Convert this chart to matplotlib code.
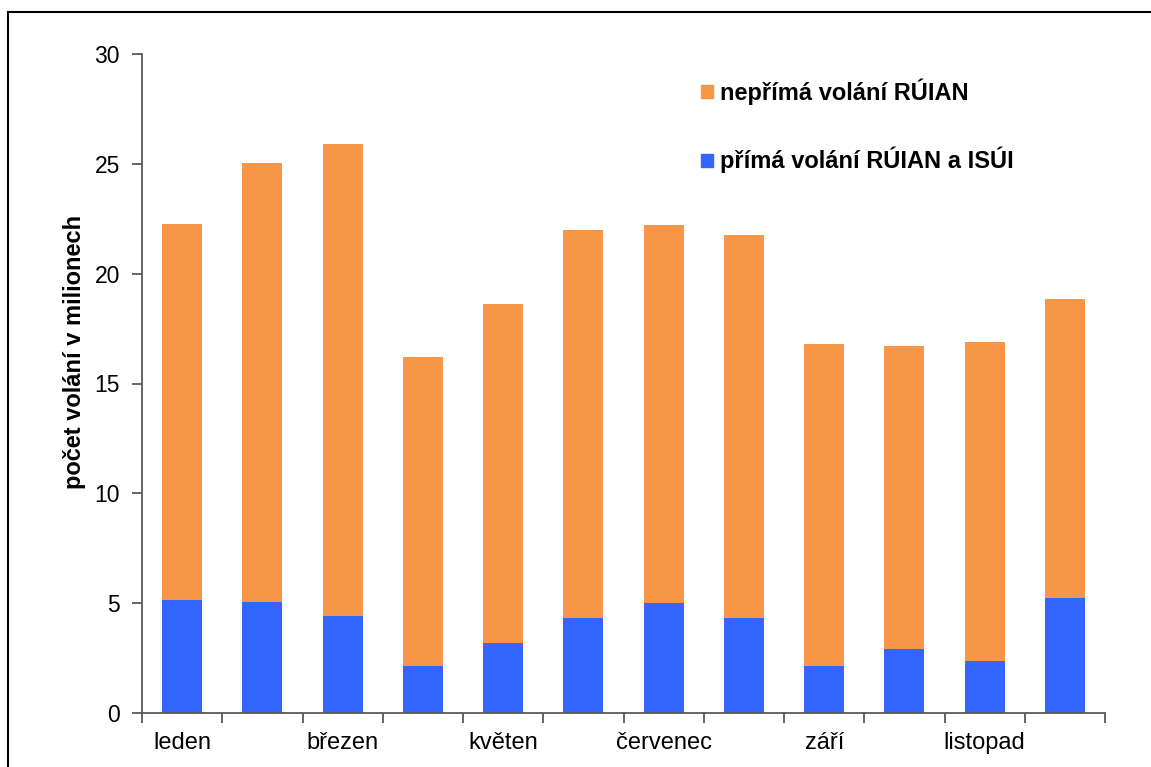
import matplotlib
matplotlib.use("Agg")
import matplotlib.pyplot as plt
from matplotlib.lines import Line2D
from matplotlib.patches import Patch
import numpy as np

plt.rcParams['font.family'] = ['Liberation Sans', 'DejaVu Sans']

months = ["leden", "únor", "březen", "duben", "květen", "červen",
          "červenec", "srpen", "září", "říjen", "listopad", "prosinec"]
prima = [5.14, 5.07, 4.43, 2.14, 3.20, 4.31, 5.01, 4.31, 2.14, 2.91, 2.38, 5.25]
neprima = [17.12, 19.97, 21.47, 14.07, 15.42, 17.68, 17.20, 17.45, 14.66, 13.80, 14.51, 13.60]
label_prima = "přímá volání RÚIAN a ISÚI"
label_neprima = "nepřímá volání RÚIAN"
ylabel = "počet volání v milionech"
yticks = [0, 5, 10, 15, 20, 25, 30]

c_blue = "#3366FF"
c_orange = "#F79646"
axis_col = "#595959"

W, H = 1151, 767
fig = plt.figure(figsize=(W / 100, H / 100), dpi=100)
ax = fig.add_axes([142 / W, 1 - 713 / H, (1105 - 142) / W, (713 - 54) / H])

x = np.arange(len(months))
ax.bar(x, prima, width=0.5, color=c_blue, label=label_prima, zorder=2)
ax.bar(x, neprima, width=0.5, bottom=prima, color=c_orange, label=label_neprima, zorder=2)

ax.set_xlim(-0.5, len(months) - 0.5)
ax.set_ylim(0, 30)
ax.set_yticks(yticks)
ax.set_xticks(x)
ax.set_xticklabels([m if i % 2 == 0 else "" for i, m in enumerate(months)])
ax.set_xticks(np.arange(-0.5, len(months), 1.0), minor=True)
ax.tick_params(axis='x', which='major', length=0, pad=14, labelsize=17, colors='black')
ax.tick_params(axis='x', which='minor', length=7, width=1.3, color=axis_col, direction='out')
ax.tick_params(axis='y', length=7, width=1.3, color=axis_col, direction='out', labelsize=16.5, pad=9)

for s in ['top', 'right']:
    ax.spines[s].set_visible(False)
for s in ['left', 'bottom']:
    ax.spines[s].set_color(axis_col)
    ax.spines[s].set_linewidth(1.3)

ax.set_ylabel(ylabel, fontsize=17, fontweight='bold')
ax.yaxis.set_label_coords(-0.058, 0.548)

handles = [Patch(color=c_orange), Patch(color=c_blue)]
leg = ax.legend(handles, [label_neprima, label_prima], loc='upper left',
                bbox_to_anchor=((692 - 142) / (1105 - 142), 1 - (69 - 54) / (713 - 54)),
                frameon=False, prop={'size': 17, 'weight': 'bold'},
                handlelength=0.47, handleheight=0.47, handletextpad=0.3,
                labelspacing=1.78, borderaxespad=0)

# figure border (top and left visible)
fig.add_artist(Line2D([8 / W, 8 / W], [0, 1 - 12 / H], transform=fig.transFigure, color='black', lw=1.5))
fig.add_artist(Line2D([8 / W, 1], [1 - 12 / H, 1 - 12 / H], transform=fig.transFigure, color='black', lw=1.5))

fig.savefig("out.png", dpi=100)
